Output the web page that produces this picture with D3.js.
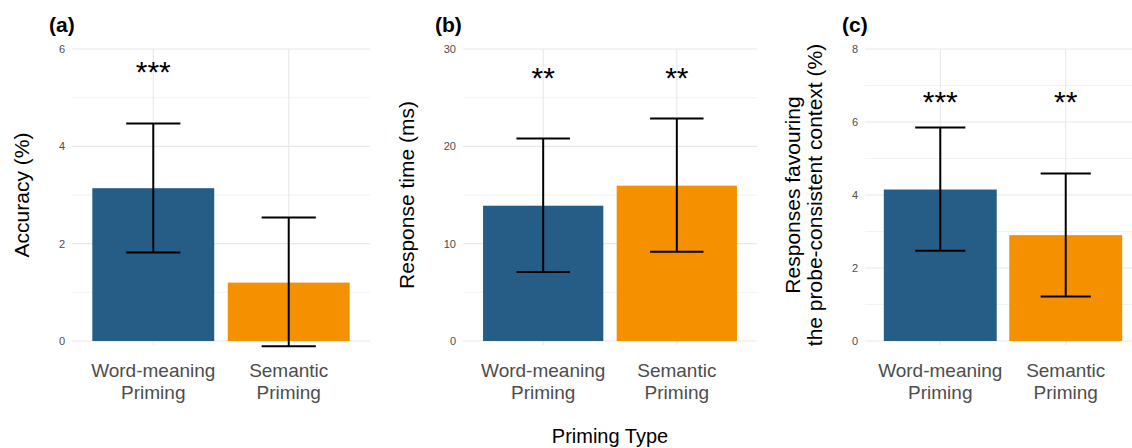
<!DOCTYPE html>
<html><head><meta charset="utf-8">
<script src="https://cdn.jsdelivr.net/npm/d3@7"></script>
<style>body{margin:0;background:#fff}svg{display:block;font-family:"Liberation Sans",Arial,sans-serif}</style>
</head><body><svg id="c" width="1132" height="448"></svg>
<script>
const categories = ["Word-meaning Priming", "Semantic Priming"];
const categoryLines = [["Word-meaning", "Priming"], ["Semantic", "Priming"]];
const colors = ["#265d86", "#f59100"];
const panelLabels = ["(a)", "(b)", "(c)"];
const yTitles = [["Accuracy (%)"], ["Response time (ms)"], ["Responses favouring", "the probe-consistent context (%)"]];
const yMax = [6, 30, 8];
const yTicks = [[0, 2, 4, 6], [0, 10, 20, 30], [0, 2, 4, 6, 8]];
const meansA = [3.14, 1.20];
const lowA = [1.82, -0.11];
const highA = [4.47, 2.54];
const meansB = [13.9, 15.96];
const lowB = [7.09, 9.18];
const highB = [20.8, 22.85];
const meansC = [4.15, 2.90];
const lowC = [2.47, 1.22];
const highC = [5.85, 4.59];
const stars = [["***", ""], ["**", "**"], ["***", "**"]];
const starY = [5.65, 27.6, 6.7];
const xTitle = "Priming Type";

const svg = d3.select("#c");
const panels = [
  {x0: 72, x1: 370, means: meansA, low: lowA, high: highA, titleX: 22, labX: 49},
  {x0: 463, x1: 757, means: meansB, low: lowB, high: highB, titleX: 407, labX: 435},
  {x0: 865, x1: 1141, means: meansC, low: lowC, high: highC, titleX: 804, labX: 842}
];
const yTop = 49, yBot = 341;

panels.forEach((p, i) => {
  const g = svg.append("g");
  const x = d3.scaleLinear().domain([0.4, 2.6]).range([p.x0, p.x1]);
  const y = d3.scaleLinear().domain([0, yMax[i]]).range([yBot, yTop]);
  const step = yTicks[i][1] - yTicks[i][0];
  const minor = d3.range(step / 2, yMax[i], step);
  g.selectAll(".mn").data(minor).join("line")
    .attr("x1", p.x0).attr("x2", p.x1).attr("y1", d => y(d)).attr("y2", d => y(d))
    .attr("stroke", "#f2f2f2").attr("stroke-width", 1);
  g.selectAll(".mj").data(yTicks[i]).join("line")
    .attr("x1", p.x0).attr("x2", p.x1).attr("y1", d => y(d)).attr("y2", d => y(d))
    .attr("stroke", "#e8e8e8").attr("stroke-width", 1.1);
  g.selectAll(".vg").data([1, 2]).join("line")
    .attr("x1", d => x(d)).attr("x2", d => x(d)).attr("y1", yTop).attr("y2", yBot + 4)
    .attr("stroke", "#e8e8e8").attr("stroke-width", 1.1);
  const ax = g.append("g").attr("transform", `translate(${p.x0 - 3},0)`)
    .call(d3.axisLeft(y).tickValues(yTicks[i]).tickFormat(d3.format("d")).tickSize(0).tickPadding(4));
  ax.select(".domain").remove();
  ax.selectAll("text").attr("font-size", 11).attr("fill", "#4d4d4d")
    .attr("font-family", "'Liberation Sans',Arial,sans-serif");
  g.selectAll(".bar").data(p.means).join("rect")
    .attr("x", (d, j) => x(j + 1 - 0.45)).attr("width", x(1.45) - x(0.55))
    .attr("y", d => y(d)).attr("height", d => y(0) - y(d))
    .attr("fill", (d, j) => colors[j]);
  p.means.forEach((m, j) => {
    const cx = x(j + 1), hw = (x(1.2) - x(1));
    const eb = g.append("g").attr("stroke", "#000").attr("stroke-width", 2);
    eb.append("line").attr("x1", cx).attr("x2", cx).attr("y1", y(p.low[j])).attr("y2", y(p.high[j]));
    eb.append("line").attr("x1", cx - hw).attr("x2", cx + hw).attr("y1", y(p.low[j])).attr("y2", y(p.low[j]));
    eb.append("line").attr("x1", cx - hw).attr("x2", cx + hw).attr("y1", y(p.high[j])).attr("y2", y(p.high[j]));
    if (stars[i][j]) {
      g.append("text").attr("x", cx).attr("y", y(starY[i]) + 16)
        .attr("text-anchor", "middle").attr("font-size", 30).attr("fill", "#000").text(stars[i][j]);
    }
    categoryLines[j].forEach((ln, k) => {
      g.append("text").attr("x", cx).attr("y", 377 + k * 22).attr("text-anchor", "middle")
        .attr("font-size", 19).attr("fill", "#4d4d4d").text(ln);
    });
  });
  g.append("text").attr("x", p.labX).attr("y", 32).attr("font-size", 21).attr("font-weight", "bold")
    .attr("fill", "#000").text(panelLabels[i]);
  const lines = yTitles[i];
  lines.forEach((ln, k) => {
    const tx = p.titleX + (k - (lines.length - 1) / 2) * 22 + 7;
    g.append("text").attr("transform", `translate(${tx},${(yTop + yBot) / 2}) rotate(-90)`)
      .attr("text-anchor", "middle").attr("font-size", 21).attr("fill", "#000").text(ln);
  });
});
svg.append("text").attr("x", 610).attr("y", 443).attr("text-anchor", "middle")
  .attr("font-size", 20).attr("fill", "#000").text(xTitle);
</script></body></html>
